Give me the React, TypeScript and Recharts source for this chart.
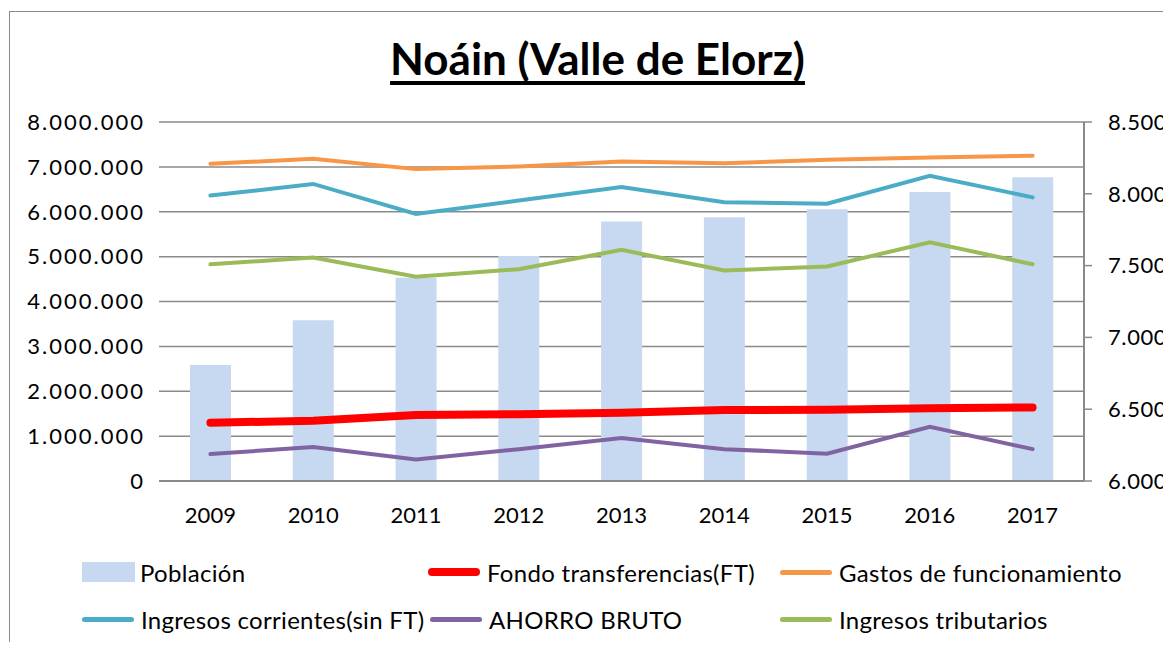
import React from 'react';
import { ComposedChart, Bar, Line, XAxis, YAxis, CartesianGrid } from 'recharts';

const years = ['2009', '2010', '2011', '2012', '2013', '2014', '2015', '2016', '2017'];
const poblacion = [6807, 7119, 7416, 7567, 7807, 7837, 7893, 8012, 8116];
const fondo = [1300000, 1340000, 1470000, 1490000, 1520000, 1580000, 1590000, 1620000, 1640000];
const gastos = [7070000, 7180000, 6950000, 7010000, 7120000, 7080000, 7160000, 7210000, 7250000];
const ingresosCorrientes = [6360000, 6620000, 5950000, 6250000, 6550000, 6210000, 6180000, 6800000, 6320000];
const ahorro = [600000, 760000, 480000, 710000, 960000, 710000, 610000, 1210000, 710000];
const tributarios = [4830000, 4980000, 4550000, 4720000, 5150000, 4690000, 4780000, 5320000, 4830000];

const leftTicks = [0, 1000000, 2000000, 3000000, 4000000, 5000000, 6000000, 7000000, 8000000];
const rightTicks = [6000, 6500, 7000, 7500, 8000, 8500];

const data = years.map((year, i) => ({
  year,
  poblacion: poblacion[i],
  fondo: fondo[i],
  gastos: gastos[i],
  ingresosCorrientes: ingresosCorrientes[i],
  ahorro: ahorro[i],
  tributarios: tributarios[i],
}));

const fmt = (v: number) => String(v).replace(/\B(?=(\d{3})+(?!\d))/g, '.');

const FONT = 'Lato, "DejaVu Sans", sans-serif';

const legendItems = [
  { name: 'Población', color: '#c6d9f1', type: 'bar', x: 82, y: 572 },
  { name: 'Fondo transferencias(FT)', color: '#ff0000', type: 'thick', x: 428, y: 572 },
  { name: 'Gastos de funcionamiento', color: '#f79646', type: 'line', x: 780, y: 572 },
  { name: 'Ingresos corrientes(sin FT)', color: '#4bacc6', type: 'line', x: 82, y: 619 },
  { name: 'AHORRO BRUTO', color: '#8064a2', type: 'line', x: 430, y: 619 },
  { name: 'Ingresos tributarios', color: '#9bbb59', type: 'line', x: 780, y: 619 },
];

export default function App() {
  return (
    <div style={{ margin: -8, width: 1171, height: 650, position: 'relative', overflow: 'hidden', background: '#fff', fontFamily: FONT }}>
      <div style={{ position: 'absolute', left: 9, top: 11, width: 1300, height: 800, border: '1.5px solid #8a8a8a' }} />
      <div style={{ position: 'absolute', left: 0, width: 1195, top: 32, textAlign: 'center', fontSize: 44, fontWeight: 700, textDecoration: 'underline', textDecorationThickness: 4, textUnderlineOffset: 6, textDecorationSkipInk: 'none', color: '#000' }}>
        Noáin (Valle de Elorz)
      </div>
      <div style={{ position: 'absolute', left: 0, top: 0 }}>
        <ComposedChart width={1171} height={650} data={data} margin={{ top: 122, right: 7, bottom: 129, left: 9 }}>
          <CartesianGrid yAxisId="left" vertical={false} stroke="#8a8a8a" strokeWidth={1.5} />
          <XAxis dataKey="year" axisLine={{ stroke: '#8a8a8a', strokeWidth: 2 }} tickLine={false} tickSize={0} tickMargin={26} height={40}
            tick={{ fill: '#000', fontSize: 22, fontFamily: FONT }} interval={0} />
          <YAxis yAxisId="left" orientation="left" width={150} domain={[0, 8000000]} ticks={leftTicks} tickFormatter={fmt}
            axisLine={false} tickLine={false} tickSize={0} tickMargin={14} tick={{ fill: '#000', fontSize: 22, fontFamily: FONT, letterSpacing: 2 }} />
          <YAxis yAxisId="right" orientation="right" width={80} domain={[6000, 8500]} ticks={rightTicks} tickFormatter={fmt}
            axisLine={{ stroke: '#8a8a8a', strokeWidth: 2 }} tickLine={{ stroke: '#8a8a8a', strokeWidth: 1.5 }} tickSize={8} tickMargin={16}
            tick={{ fill: '#000', fontSize: 22, fontFamily: FONT, letterSpacing: 0.6 }} />
          <Bar yAxisId="right" dataKey="poblacion" fill="#c6d9f1" barSize={41} isAnimationActive={false} />
          <Line yAxisId="left" dataKey="fondo" stroke="#ff0000" strokeWidth={8} strokeLinecap="round" dot={false} isAnimationActive={false} />
          <Line yAxisId="left" dataKey="gastos" stroke="#f79646" strokeWidth={4} strokeLinecap="round" dot={false} isAnimationActive={false} />
          <Line yAxisId="left" dataKey="ingresosCorrientes" stroke="#4bacc6" strokeWidth={4} strokeLinecap="round" dot={false} isAnimationActive={false} />
          <Line yAxisId="left" dataKey="ahorro" stroke="#8064a2" strokeWidth={4} strokeLinecap="round" dot={false} isAnimationActive={false} />
          <Line yAxisId="left" dataKey="tributarios" stroke="#9bbb59" strokeWidth={4} strokeLinecap="round" dot={false} isAnimationActive={false} />
        </ComposedChart>
      </div>
      {legendItems.map((it) => (
        <div key={it.name} style={{ position: 'absolute', left: it.x, top: it.y - 16, height: 32, display: 'flex', alignItems: 'center', fontSize: 24, letterSpacing: 0.3, color: '#000', whiteSpace: 'nowrap' }}>
          {it.type === 'bar' ? (
            <div style={{ width: 53, height: 20, background: it.color, marginRight: 5 }} />
          ) : (
            <div style={{ width: 52, height: it.type === 'thick' ? 8 : 5, borderRadius: 4, background: it.color, marginRight: 7 }} />
          )}
          <span>{it.name}</span>
        </div>
      ))}
    </div>
  );
}
